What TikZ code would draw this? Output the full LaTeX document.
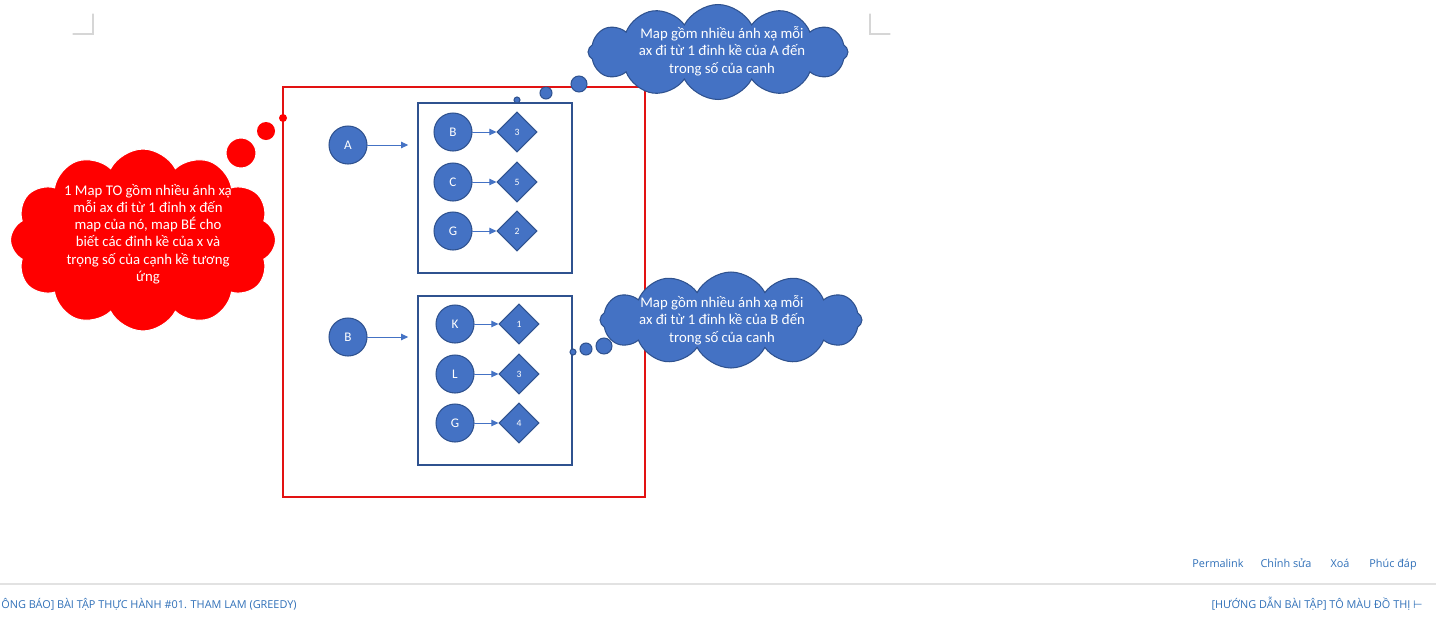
\documentclass[tikz,border=0pt]{standalone}
\usepackage{fontspec}
\setmainfont{Carlito}
\newfontfamily\webfont{Open Sans}
\newfontfamily\symfont{DejaVu Sans}
\usetikzlibrary{arrows.meta,shapes.geometric,shapes.symbols}
\definecolor{fillb}{HTML}{4472C4}
\definecolor{lineb}{HTML}{2F528F}
\definecolor{redc}{RGB}{255,0,0}
\definecolor{framec}{RGB}{226,18,18}
\definecolor{linkc}{RGB}{48,112,184}
\definecolor{markc}{RGB}{214,214,214}
\definecolor{rulec}{RGB}{226,226,226}

\tikzset{
  vert/.style={circle, fill=fillb, draw=lineb, line width=0.6pt, minimum size=0.76cm,
    inner sep=0pt, text=white, font=\fontsize{7.5}{9}\selectfont},
  wbox/.style={diamond, fill=fillb, draw=lineb, line width=0.6pt, minimum size=0.8cm,
    inner sep=0pt, text=white, font=\fontsize{5.5}{6}\selectfont},
  link/.style={-{Triangle[length=4pt,width=3.6pt]}, draw=fillb, line width=0.5pt},
  mapbox/.style={draw=lineb, line width=0.9pt, minimum width=3.08cm, inner sep=0pt},
  thought/.style={cloud, cloud puffs=12, cloud puff arc=125, shape border rotate=15, cloud ignores aspect,
    inner sep=0pt, minimum width=5.2cm, minimum height=1.9cm, line width=0.6pt},
  notetext/.style={align=center, text=white, font=\fontsize{8.4}{9.9}\selectfont},
  weblink/.style={text=linkc, font=\webfont\fontsize{6.2}{7}\selectfont, inner sep=0pt, anchor=base}
}

\begin{document}
\begin{tikzpicture}[x=0.02cm, y=-0.02cm, line cap=round]
  \useasboundingbox (0,0) rectangle (1436,626);

  % page corner marks
  \draw[markc, line width=0.6pt] (73,34) -- (93,34) -- (93,14);
  \draw[markc, line width=0.6pt] (870,14) -- (870,34) -- (890,34);

  % outer map (red frame)
  \draw[framec, line width=1.1pt] (283,87) rectangle (645,497);

  % the two inner maps
  \node[mapbox, minimum height=3.4cm]  (mapA) at (495,188) {};
  \node[mapbox, minimum height=3.38cm] (mapB) at (495,380.5) {};

  % keys of the outer map
  \node[vert] (A) at (348,145) {A};
  \node[vert] (B) at (348,337) {B};
  \draw[link, shorten >=0.18cm] (A) -- (A -| mapA.west);
  \draw[link, shorten >=0.18cm] (B) -- (B -| mapB.west);

  % inner map of A
  \foreach \n/\y/\w in {B/132/3, C/182/5, G/231/2}{
    \node[vert] (a\n) at (453,\y) {\n};
    \node[wbox] (wa\n) at (517,\y) {\w};
    \draw[link] (a\n) -- (wa\n);
  }

  % inner map of B
  \foreach \n/\y/\w in {K/324/1, L/374/3, G/423/4}{
    \node[vert] (b\n) at (455,\y) {\n};
    \node[wbox] (wb\n) at (519,\y) {\w};
    \draw[link] (b\n) -- (wb\n);
  }

  % thought cloud of the outer map, bubbles up to the frame
  \node[thought, fill=redc, draw=white, minimum width=5.3cm, minimum height=3.64cm] (noteTo) at (143,240) {};
  \fill[redc] (283,118) circle[radius=4] (266,131) circle[radius=9];
  \filldraw[fill=redc, draw=white, line width=0.6pt] (241,153) circle[radius=15];
  \node[notetext, font=\fontsize{8.4}{9.8}\selectfont] (noteTo-txt) at (148,234)
    {1 Map TO gồm nhiều ánh xạ\\ mỗi ax đi từ 1 đỉnh x đến\\
    map của nó, map BÉ cho\\ biết các đỉnh kề của x và\\ trọng số của cạnh kề tương\\ ứng};

  % thought clouds of the inner maps
  \node[thought, fill=fillb, draw=lineb] (noteA) at (718,52) {};
  \filldraw[fill=fillb, draw=lineb, line width=0.6pt]
    (517,100) circle[radius=3] (546,93) circle[radius=6] (579,84) circle[radius=8];
  \node[notetext] (noteA-txt) at (722,51) {Map gồm nhiều ánh xạ mỗi\\ ax đi từ 1 đỉnh kề của A đến\\ trong số của canh};

  \node[thought, fill=fillb, draw=lineb, minimum width=5.24cm, minimum height=1.92cm] (noteB) at (731,320) {};
  \filldraw[fill=fillb, draw=lineb, line width=0.6pt]
    (573,352) circle[radius=3] (586,349) circle[radius=6] (604,346) circle[radius=8];
  \node[notetext] (noteB-txt) at (722,320) {Map gồm nhiều ánh xạ mỗi\\ ax đi từ 1 đỉnh kề của B đến\\ trong số của canh};

  % page footer
  \draw[rulec, line width=0.6pt] (0,584) -- (1436,584);
  \node[weblink] (perma) at (1218,567) {Permalink};
  \node[weblink] (edit)  at (1286,567) {Chỉnh sửa};
  \node[weblink] (del)   at (1340,567) {Xoá};
  \node[weblink] (reply) at (1393,567) {Phúc đáp};
  \node[weblink, anchor=base west] (prev) at (1,608) {ÔNG BÁO] BÀI TẬP THỰC HÀNH \#01. THAM LAM (GREEDY)};
  \node[weblink, anchor=base east] (next) at (1423,608) {[HƯỚNG DẪN BÀI TẬP] TÔ MÀU ĐỒ THỊ {\symfont ⊢}};
\end{tikzpicture}
\end{document}
